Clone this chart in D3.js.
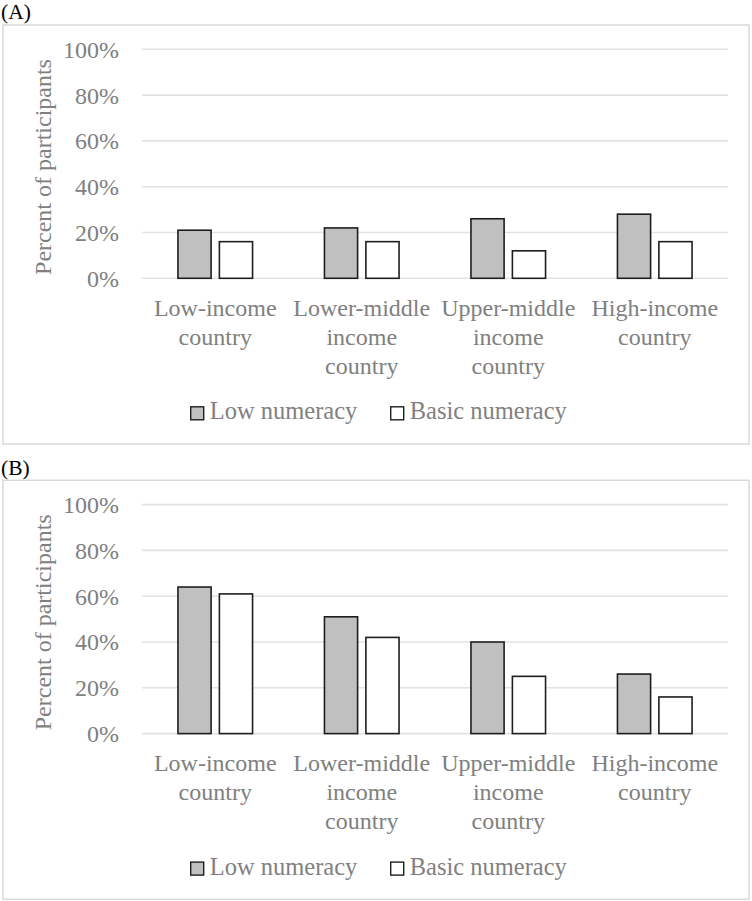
<!DOCTYPE html>
<html>
<head>
<meta charset="utf-8">
<script src="https://cdn.jsdelivr.net/npm/d3@7"></script>
<style>
  html, body { margin: 0; padding: 0; background: #fff; }
  svg { display: block; }
  text { font-family: "Liberation Serif", "Times New Roman", serif; }
</style>
</head>
<body>
<svg id="chart" width="752" height="901"></svg>
<script>
// ---- data ----
const categories = ["Low-income country", "Lower-middle income country", "Upper-middle income country", "High-income country"];
const categoryLines = [["Low-income", "country"], ["Lower-middle", "income", "country"], ["Upper-middle", "income", "country"], ["High-income", "country"]];
const seriesNames = ["Low numeracy", "Basic numeracy"];
const seriesFill = ["#c0c0c0", "#ffffff"];
const panelLabels = ["(A)", "(B)"];
const lowNumeracyA = [21, 22, 26, 28];
const basicNumeracyA = [16, 16, 12, 16];
const lowNumeracyB = [64, 51, 40, 26];
const basicNumeracyB = [61, 42, 25, 16];
const yTicks = [0, 20, 40, 60, 80, 100];
const yTitle = "Percent of participants";

// ---- layout ----
const svg = d3.select("#chart");
const textColor = "#808080";
const panelTops = [25, 480.3];
const panelW = 746, panelH = 419, panelX = 3;
const plotLeft = 142, plotRight = 728;
const yBottom = 253.3, yTop = 24.3;

const x0 = d3.scaleBand().domain(categories).range([plotLeft, plotRight]).padding(0);
const groupW = 74.6;
const x1 = d3.scaleBand().domain(seriesNames).range([0, groupW]).paddingInner(0.2).paddingOuter(0);
const y = d3.scaleLinear().domain([0, 100]).range([yBottom, yTop]);

function drawPanel(idx, lowVals, basicVals) {
  const top = panelTops[idx];
  // panel label
  svg.append("text").attr("x", 1).attr("y", top - 5.8)
    .attr("font-size", 21.5).attr("fill", "#000").text(panelLabels[idx]);

  const g = svg.append("g").attr("transform", `translate(0,${top})`);
  g.append("rect").attr("x", panelX).attr("y", 0).attr("width", panelW).attr("height", panelH)
    .attr("fill", "#fff").attr("stroke", "#d9d9d9").attr("stroke-width", 1.5);

  // gridlines
  g.selectAll("line.grid").data(yTicks).enter().append("line")
    .attr("class", "grid")
    .attr("x1", plotLeft).attr("x2", plotRight)
    .attr("y1", d => y(d)).attr("y2", d => y(d))
    .attr("stroke", "#e2e2e2").attr("stroke-width", 1.6);

  // y axis tick labels
  const yAxis = d3.axisLeft(y).tickValues(yTicks).tickFormat(d => d + "%").tickSize(0).tickPadding(0);
  const ya = g.append("g").attr("transform", "translate(119,0)").call(yAxis);
  ya.select(".domain").remove();
  ya.selectAll("text").attr("font-size", 24).attr("fill", textColor)
    .attr("font-family", "Liberation Serif, Times New Roman, serif").attr("dy", "0.33em");

  // y title
  g.append("text").attr("transform", `translate(43,142) rotate(-90)`)
    .attr("text-anchor", "middle").attr("dominant-baseline", "central")
    .attr("font-size", 24).attr("fill", textColor).text(yTitle);

  // bars
  const rows = categories.map((c, i) => ({ c, vals: [lowVals[i], basicVals[i]] }));
  const grp = g.selectAll("g.cat").data(rows).enter().append("g")
    .attr("class", "cat")
    .attr("transform", d => `translate(${x0(d.c) + x0.bandwidth() / 2 - groupW / 2},0)`);
  grp.selectAll("rect").data(d => d.vals.map((v, j) => ({ v, s: seriesNames[j], j }))).enter().append("rect")
    .attr("x", d => x1(d.s)).attr("width", x1.bandwidth())
    .attr("y", d => y(d.v)).attr("height", d => y(0) - y(d.v))
    .attr("fill", d => seriesFill[d.j]).attr("stroke", "#1e1e1e").attr("stroke-width", 1.6);

  // category labels
  const lab = g.selectAll("text.cat").data(categories).enter().append("text")
    .attr("class", "cat")
    .attr("text-anchor", "middle").attr("font-size", 24).attr("fill", textColor)
    .attr("x", d => x0(d) + x0.bandwidth() / 2)
    .attr("y", yBottom + 37.5);
  lab.each(function(d, i) {
    const t = d3.select(this);
    categoryLines[i].forEach((line, k) => {
      t.append("tspan").attr("x", x0(d) + x0.bandwidth() / 2).attr("dy", k === 0 ? 0 : 29).text(line);
    });
  });

  // legend
  const legX = [190.7, 390.7];
  const leg = g.selectAll("g.leg").data(seriesNames).enter().append("g")
    .attr("class", "leg")
    .attr("transform", (d, i) => `translate(${legX[i]},${394.3})`);
  leg.append("rect").attr("x", 0).attr("y", -12.5).attr("width", 13).attr("height", 13)
    .attr("fill", (d, i) => seriesFill[i]).attr("stroke", "#1e1e1e").attr("stroke-width", 1.4);
  leg.append("text").attr("x", 19).attr("y", 0).attr("font-size", 24.5).attr("fill", textColor).text(d => d);
}

drawPanel(0, lowNumeracyA, basicNumeracyA);
drawPanel(1, lowNumeracyB, basicNumeracyB);
</script>
</body>
</html>
